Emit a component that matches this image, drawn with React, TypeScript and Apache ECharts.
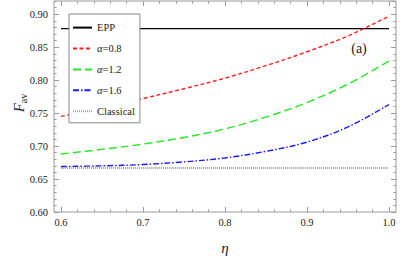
import React, { useEffect, useRef } from "react";
import * as echarts from "echarts";

// eta values and average fidelity
const ETA = [0.6, 0.65, 0.7, 0.75, 0.8, 0.85, 0.9, 0.95, 1.0];
const ALPHA_08 = [0.745, 0.758, 0.772, 0.787, 0.803, 0.822, 0.843, 0.867, 0.897];
const ALPHA_12 = [0.688, 0.695, 0.703, 0.713, 0.726, 0.744, 0.766, 0.794, 0.829];
const ALPHA_16 = [0.669, 0.670, 0.672, 0.676, 0.682, 0.692, 0.706, 0.729, 0.763];
const EPP_VALUE = [0.878, 0.878];
const CLASSICAL_VALUE = [2 / 3, 2 / 3];
const ETA_ENDS = [0.6, 1.0];
const SERIES_NAMES = ["EPP", "α=0.8", "α=1.2", "α=1.6", "Classical"];

const FONT = "Liberation Serif, Times New Roman, serif";
const FRAME = "#9a9a9a";

export default function App() {
  const ref = useRef<HTMLDivElement>(null);
  useEffect(() => {
    if (!ref.current) return;
    const chart = echarts.init(ref.current, undefined, { renderer: "svg" });
    const tickAxisX = (pos: string, interval: number, len: number, main: boolean) => ({
      type: "value",
      position: pos,
      min: 0.6,
      max: 1.0,
      interval,
      axisLine: { show: false },
      splitLine: { show: false },
      axisTick: { show: true, inside: true, length: len, lineStyle: { color: FRAME, width: 1 } },
      axisLabel: main
        ? {
            show: true,
            margin: 5,
            fontFamily: FONT,
            fontSize: 10.5,
            color: "#222",
            formatter: (v: number) => v.toFixed(1),
          }
        : { show: false },
    });
    const tickAxisY = (pos: string, interval: number, len: number, main: boolean) => ({
      type: "value",
      position: pos,
      offset: 7,
      min: 0.6,
      max: 0.92,
      interval,
      axisLine: { show: false },
      splitLine: { show: false },
      axisTick: { show: true, inside: true, length: len, lineStyle: { color: FRAME, width: 1 } },
      axisLabel: main
        ? {
            show: true,
            margin: 6,
            fontFamily: FONT,
            fontSize: 10.5,
            color: "#222",
            showMaxLabel: false,
            formatter: (v: number) => v.toFixed(2),
          }
        : { show: false },
    });
    const xMain: any = tickAxisX("bottom", 0.1, 5, true);
    xMain.name = "η";
    xMain.nameLocation = "middle";
    xMain.nameGap = 28;
    xMain.nameTextStyle = { fontFamily: FONT, fontStyle: "italic", fontSize: 15, color: "#222" };

    const line = (name: string, ys: number[], xs: number[], color: string, type: any, width: number, z = 3) => ({
      name,
      type: "line",
      xAxisIndex: 0,
      yAxisIndex: 0,
      data: xs.map((x, i) => [x, ys[i]]),
      showSymbol: false,
      symbol: "none",
      smooth: 0.35,
      z,
      lineStyle: { color, type, width },
      itemStyle: { color },
    });

    chart.setOption({
      animation: false,
      backgroundColor: "#fff",
      grid: { left: 61, right: 26, top: 1, bottom: 48 },
      xAxis: [
        xMain,
        tickAxisX("bottom", 0.02, 2.6, false),
        tickAxisX("top", 0.1, 5, false),
        tickAxisX("top", 0.02, 2.6, false),
      ],
      yAxis: [
        tickAxisY("left", 0.05, 5, true),
        tickAxisY("left", 0.01, 2.6, false),
        tickAxisY("right", 0.05, 5, false),
        tickAxisY("right", 0.01, 2.6, false),
      ],
      legend: {
        orient: "vertical",
        left: 69,
        top: 14,
        itemWidth: 19,
        itemHeight: 14,
        itemGap: 9.7,
        padding: [8, 5, 6, 3],
        backgroundColor: "#fff",
        borderColor: "#888",
        borderWidth: 1,
        data: SERIES_NAMES,
        itemStyle: { color: "rgba(0,0,0,0)", borderWidth: 0, opacity: 0 },
        formatter: (name: string) =>
          name.startsWith("α") ? "{i|α}{n|" + name.slice(1) + "}" : "{n|" + name + "}",
        textStyle: {
          fontFamily: FONT,
          fontSize: 10.5,
          color: "#222",
          rich: {
            i: { fontFamily: FONT, fontSize: 10.5, fontStyle: "italic", color: "#222" },
            n: { fontFamily: FONT, fontSize: 10.5, color: "#222" },
          },
        },
      },
      graphic: [
        {
          type: "rect",
          shape: { x: 54, y: 1, width: 342, height: 211 },
          style: { fill: "none", stroke: FRAME, lineWidth: 1 },
          z: 10,
          silent: true,
        },
        {
          type: "text",
          x: 359,
          y: 48,
          style: {
            text: "(a)",
            fontFamily: FONT,
            fontSize: 14,
            fill: "#222",
            align: "center",
            verticalAlign: "middle",
          },
        },
        {
          type: "text",
          x: 19,
          y: 103,
          rotation: Math.PI / 2,
          style: {
            text: "{f|F}{s|av}",
            align: "center",
            verticalAlign: "middle",
            rich: {
              f: { fontFamily: FONT, fontSize: 15, fontStyle: "italic", fill: "#222", lineHeight: 18, verticalAlign: "middle" },
              s: { fontFamily: FONT, fontSize: 10, fill: "#222", lineHeight: 18, verticalAlign: "bottom", padding: [6, 0, 0, 0] },
            },
          },
        },
      ],
      series: [
        line(SERIES_NAMES[0], EPP_VALUE, ETA_ENDS, "#000000", "solid", 1.3),
        line(SERIES_NAMES[1], ALPHA_08, ETA, "#ff2020", [4, 2.5], 1.4),
        line(SERIES_NAMES[2], ALPHA_12, ETA, "#28e628", [8, 4], 1.4),
        line(SERIES_NAMES[3], ALPHA_16, ETA, "#1a1aff", [6, 2, 1.5, 2], 1.4),
        line(SERIES_NAMES[4], CLASSICAL_VALUE, ETA_ENDS, "#a0a0a0", [1, 1], 2),
      ],
    });
    return () => chart.dispose();
  }, []);
  return (
    <div
      ref={ref}
      style={{ position: "fixed", left: 0, top: 0, width: 415, height: 260, background: "#fff" }}
    />
  );
}
